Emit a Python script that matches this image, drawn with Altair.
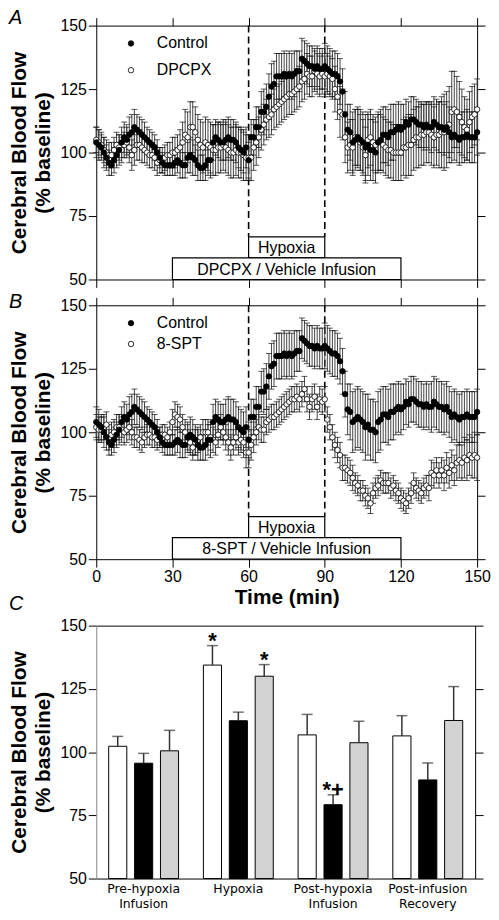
import altair as alt
import pandas as pd

FONT = "Liberation Sans"

# ---------------- data ----------------
time_min = list(range(0, 151))

control = [
    104, 103, 102, 100, 98, 96, 95, 97, 99, 101,
    104, 106, 105, 107, 108, 110, 109, 108, 107, 106,
    105, 104, 103, 102, 100, 98, 96, 95, 95, 95,
    95, 96, 97, 96, 95, 95, 98, 99, 98, 97,
    95, 94, 94, 95, 97, 97, 104, 106, 105, 104,
    104, 105, 106, 105, 105, 104, 102, 101, 100, 102,
    97, 106, 106, 110, 110, 116, 116, 118, 122, 126,
    127, 130, 130, 130, 131, 130, 131, 130, 131, 132,
    132, 137, 136, 135, 134, 134, 133, 134, 133, 133,
    134, 133, 132, 131, 131, 130, 128, 124, 115, 109,
    108, 104, 105, 106, 105, 104, 102, 103, 101, 101,
    100, 104, 105, 107, 107, 106, 108, 108, 109, 110,
    109, 110, 112, 111, 113, 113, 112, 111, 111, 110,
    111, 110, 110, 112, 111, 110, 110, 109, 110, 108,
    106, 107, 106, 105, 106, 106, 107, 106, 106, 106,
    108]
control_sem = [
    6, 6, 5, 6, 5, 5, 4, 5, 5, 6,
    6, 6, 6, 7, 7, 7, 6, 6, 6, 6,
    5, 5, 5, 5, 5, 4, 4, 4, 4, 4,
    4, 5, 5, 6, 5, 5, 6, 7, 7, 6,
    6, 5, 5, 6, 6, 7, 7, 7, 7, 7,
    7, 8, 8, 8, 8, 8, 8, 8, 8, 8,
    7, 7, 7, 8, 8, 8, 9, 9, 9, 9,
    9, 9, 9, 9, 9, 9, 9, 9, 9, 8,
    8, 8, 8, 8, 8, 8, 8, 8, 8, 8,
    9, 9, 9, 9, 9, 9, 9, 9, 9, 10,
    11, 12, 12, 12, 12, 12, 13, 12, 12, 12,
    12, 12, 12, 11, 11, 11, 11, 11, 10, 10,
    10, 9, 9, 9, 9, 9, 9, 9, 9, 9,
    9, 9, 10, 10, 10, 10, 10, 10, 10, 10,
    10, 10, 10, 10, 10, 10, 10, 10, 10, 10,
    9]

dpcpx = [
    105, 104, 103, 101, 100, 99, 99, 101, 103, 102,
    101, 103, 104, 102, 99, 101, 103, 103, 102, 101,
    100, 99, 99, 98, 96, 97, 97, 98, 99, 99,
    100, 100, 101, 102, 104, 107, 106, 110, 110, 108,
    105, 103, 102, 104, 103, 102, 101, 101, 102, 102,
    103, 102, 101, 100, 100, 101, 100, 100, 99, 98,
    98, 98, 102, 104, 106, 109, 111, 113, 114, 115,
    117, 118, 119, 120, 121, 122, 123, 123, 124, 125,
    126, 128, 129, 131, 130, 130, 132, 131, 130, 131,
    130, 131, 130, 129, 125, 122, 116, 115, 106, 102,
    103, 102, 106, 106, 104, 102, 99, 105, 106, 104,
    103, 104, 104, 103, 102, 101, 101, 100, 100, 100,
    100, 102, 102, 103, 103, 105, 106, 106, 107, 107,
    108, 108, 107, 106, 107, 107, 108, 108, 109, 111,
    116, 117, 116, 114, 112, 110, 109, 112, 114, 115,
    117]
dpcpx_sem = [
    5, 5, 5, 5, 5, 5, 5, 5, 5, 5,
    5, 5, 6, 6, 6, 6, 6, 6, 6, 5,
    5, 5, 5, 5, 5, 5, 5, 5, 5, 5,
    6, 6, 6, 7, 8, 10, 10, 10, 10, 10,
    10, 10, 10, 10, 10, 10, 10, 10, 10, 10,
    10, 10, 10, 10, 10, 10, 10, 10, 10, 9,
    9, 9, 9, 9, 8, 8, 8, 8, 8, 8,
    8, 8, 8, 8, 8, 8, 8, 8, 8, 8,
    8, 8, 8, 8, 8, 8, 8, 8, 8, 8,
    8, 8, 8, 8, 9, 9, 10, 10, 10, 10,
    10, 11, 11, 11, 11, 11, 11, 11, 11, 11,
    11, 11, 11, 11, 11, 11, 11, 11, 11, 11,
    11, 11, 12, 12, 12, 12, 12, 12, 12, 12,
    12, 12, 12, 12, 12, 13, 14, 15, 15, 15,
    16, 15, 14, 14, 13, 12, 12, 12, 12, 12,
    12]

spt = [
    102, 101, 101, 102, 103, 98, 99, 100, 102, 102,
    101, 100, 101, 102, 100, 98, 98, 97, 96, 98,
    99, 99, 98, 98, 97, 98, 99, 99, 98, 100,
    104, 107, 106, 105, 102, 100, 98, 96, 94, 96,
    97, 98, 100, 100, 100, 98, 97, 96, 99, 102,
    100, 98, 96, 94, 96, 98, 96, 97, 96, 92,
    92, 95, 98, 100, 102, 101, 101, 104, 105, 106,
    106, 107, 108, 109, 110, 111, 112, 113, 113, 114,
    113, 115, 117, 113, 110, 113, 114, 110, 113, 112,
    113, 105, 102, 98, 95, 93, 91, 86, 86, 85,
    84, 82, 80, 79, 77, 77, 75, 74, 72, 76,
    78, 79, 81, 80, 80, 80, 78, 79, 77, 76,
    74, 73, 72, 74, 76, 80, 78, 77, 76, 78,
    79, 78, 84, 83, 85, 83, 85, 83, 86, 84,
    87, 85, 88, 89, 88, 90, 89, 91, 90, 91,
    90]
spt_sem = [
    5, 5, 5, 5, 5, 5, 5, 5, 5, 5,
    5, 5, 5, 5, 5, 4, 4, 4, 4, 4,
    4, 4, 4, 4, 4, 4, 4, 4, 4, 4,
    5, 5, 5, 5, 5, 5, 5, 5, 5, 5,
    5, 5, 5, 5, 5, 5, 5, 5, 5, 5,
    5, 5, 5, 5, 5, 5, 5, 5, 6, 6,
    6, 6, 6, 5, 5, 5, 5, 5, 5, 5,
    5, 5, 5, 5, 5, 5, 5, 5, 5, 5,
    5, 5, 5, 5, 5, 5, 5, 5, 5, 5,
    5, 5, 5, 5, 5, 5, 5, 5, 5, 5,
    5, 5, 4, 4, 4, 4, 4, 4, 4, 4,
    4, 4, 4, 4, 4, 4, 4, 4, 4, 4,
    4, 4, 4, 4, 4, 4, 4, 4, 4, 4,
    4, 5, 5, 5, 5, 5, 5, 6, 6, 6,
    6, 6, 7, 7, 7, 8, 8, 8, 8, 9,
    9]

x_ticks = [0, 30, 60, 90, 120, 150]
y_ticks = [50, 75, 100, 125, 150]
hypoxia_start, hypoxia_end = 60, 90
infusion_start, infusion_end = 30, 120

bar_groups = ["Pre-hypoxia|Infusion", "Hypoxia", "Post-hypoxia|Infusion", "Post-infusion|Recovery"]
bar_treatments = ["Control", "8-SPT", "DPCPX"]
bar_mean = {
    "Control": [102.3, 134.4, 106.8, 106.4],
    "8-SPT": [95.6, 112.4, 79.2, 89.0],
    "DPCPX": [100.5, 130.0, 103.7, 112.5],
}
bar_sem = {
    "Control": [3.9, 7.7, 8.1, 8.0],
    "8-SPT": [3.9, 3.4, 3.9, 6.7],
    "DPCPX": [8.1, 4.6, 8.5, 13.4],
}
bar_marks = [("Hypoxia", "Control", "*"), ("Hypoxia", "DPCPX", "*"), ("Post-hypoxia|Infusion", "8-SPT", "*+")]

Y_TITLE = ["Cerebral Blood Flow", "(% baseline)"]
INK = "black"

xs = alt.Scale(domain=[0, 150], nice=False, zero=False)
ys = alt.Scale(domain=[50, 150], nice=False, zero=False)


def left_axis(domain_color=INK):
    return alt.Axis(values=y_ticks, tickSize=8, labelFontSize=16, labelPadding=2,
                    title=Y_TITLE, titleFontSize=21, titleFontWeight="bold",
                    titleLineHeight=25, titlePadding=6, grid=False, labelFlush=False,
                    domainColor=domain_color, tickColor=INK, labelColor=INK, titleColor=INK)


def right_axis():
    return alt.Axis(orient="right", values=y_ticks, labels=False, tickSize=8, title=None,
                    grid=False, domainColor=INK, tickColor=INK)


def ts_panel(other_name, other_vals, other_sem, infusion_text, letter, letter_y,
             show_time_labels, legend_row_pad, extra_letter=None, extra_letter_y=0):
    rows = []
    for name, vals, sems in [(other_name, other_vals, other_sem), ("Control", control, control_sem)]:
        for t, v, s in zip(time_min, vals, sems):
            rows.append({"series": name, "t": t, "v": v, "lo": v - s, "hi": v + s})
    df = pd.DataFrame(rows)
    caps = pd.concat([pd.DataFrame({"t": df["t"], "c": df["lo"]}),
                      pd.DataFrame({"t": df["t"], "c": df["hi"]})])

    box_df = pd.DataFrame({
        "label": ["Hypoxia", infusion_text],
        "x1": [hypoxia_start, infusion_start], "x2": [hypoxia_end, infusion_end],
        "y1": [58.5, 50.0], "y2": [66.8, 58.5],
    })
    box_df["xm"] = (box_df["x1"] + box_df["x2"]) / 2
    box_df["ym"] = (box_df["y1"] + box_df["y2"]) / 2
    dash_df = pd.DataFrame({"t": [hypoxia_start, hypoxia_end], "top": [150, 150], "bot": [66.8, 66.8]})

    if show_time_labels:
        xb = alt.Axis(values=x_ticks, tickSize=8, labelFontSize=16, labelPadding=2, labelFlush=False,
                      title="Time (min)", titleFontSize=21, titleFontWeight="bold", titlePadding=2,
                      grid=False, domainColor=INK, tickColor=INK, labelColor=INK, titleColor=INK)
    else:
        xb = alt.Axis(values=x_ticks, tickSize=8, labels=False, title=None, grid=False,
                      domainColor=INK, tickColor=INK)
    xt = alt.Axis(orient="top", values=x_ticks, tickSize=8, labels=False, title=None, grid=False,
                  domainColor=INK, tickColor=INK)

    dash = alt.Chart(dash_df).mark_rule(strokeDash=[7, 4], strokeWidth=1.6, color=INK).encode(
        x=alt.X("t:Q", scale=xs, axis=None), y=alt.Y("top:Q", scale=ys, axis=None), y2="bot:Q")
    boxes = alt.Chart(box_df).mark_rect(fill="white", stroke=INK, strokeWidth=1.2).encode(
        x=alt.X("x1:Q", scale=xs, axis=None), x2="x2:Q",
        y=alt.Y("y1:Q", scale=ys, axis=None), y2="y2:Q")
    box_text = alt.Chart(box_df).mark_text(font=FONT, fontSize=16, baseline="middle", dy=1, color=INK).encode(
        x=alt.X("xm:Q", scale=xs, axis=None), y=alt.Y("ym:Q", scale=ys, axis=None), text="label:N")
    err = alt.Chart(df).mark_rule(color="#444", strokeWidth=1).encode(
        x=alt.X("t:Q", scale=xs, axis=xb), y=alt.Y("lo:Q", scale=ys, axis=left_axis()), y2="hi:Q")
    cap = alt.Chart(caps).mark_tick(orient="horizontal", size=6, thickness=1, color="#111").encode(
        x=alt.X("t:Q", scale=xs, axis=None), y=alt.Y("c:Q", scale=ys, axis=None))
    pts = alt.Chart(df).mark_circle(size=30, stroke=INK, strokeWidth=0.8, opacity=1).encode(
        x=alt.X("t:Q", scale=xs, axis=xt),
        y=alt.Y("v:Q", scale=ys, axis=right_axis()),
        fill=alt.Fill("series:N", scale=alt.Scale(domain=["Control", other_name], range=["black", "white"]),
                      legend=alt.Legend(orient="none", legendX=27, legendY=10, title=None,
                                        labelFontSize=16, labelFont=FONT, labelColor=INK,
                                        symbolType="circle", symbolSize=30, symbolStrokeColor=INK,
                                        symbolStrokeWidth=0.8, labelOffset=18, rowPadding=legend_row_pad,
                                        padding=0)))
    layers = [dash, boxes, box_text, err, cap, pts]
    layers.append(alt.Chart(pd.DataFrame({"label": [letter]})).mark_text(
        font=FONT, fontSize=20, fontStyle="italic", align="left", baseline="alphabetic", color=INK).encode(
        x=alt.value(-88), y=alt.value(letter_y), text="label:N"))
    if extra_letter:
        layers.append(alt.Chart(pd.DataFrame({"label": [extra_letter]})).mark_text(
            font=FONT, fontSize=20, fontStyle="italic", align="left", baseline="alphabetic", color=INK).encode(
            x=alt.value(-88), y=alt.value(extra_letter_y), text="label:N"))
    return alt.layer(*layers).resolve_axis(x="independent", y="independent").properties(width=384, height=256)


panel_a = ts_panel("DPCPX", dpcpx, dpcpx_sem, "DPCPX / Vehicle Infusion", "A", -2, False, 11)
panel_b = ts_panel("8-SPT", spt, spt_sem, "8-SPT / Vehicle Infusion", "B", 3, True, 5,
                   extra_letter="C", extra_letter_y=307)

# ---------------- bar panel ----------------
brows = []
for tr in bar_treatments:
    for g, m, s in zip(bar_groups, bar_mean[tr], bar_sem[tr]):
        brows.append({"group": g, "treatment": tr, "mean": m, "hi": m + s})
bdf = pd.DataFrame(brows)
mdf = pd.DataFrame([{"group": g, "treatment": tr, "txt": txt} for g, tr, txt in bar_marks])
mdf = mdf.merge(bdf, on=["group", "treatment"])

bx_scale = alt.Scale(paddingInner=0.18, paddingOuter=0.09)
bo_scale = alt.Scale(paddingInner=0.3, paddingOuter=0.15)
xo = alt.XOffset("treatment:N", sort=bar_treatments, scale=bo_scale)

bx_axis = alt.Axis(labelExpr="split(datum.label, '|')", ticks=False, labelAngle=0,
                   labelFont="DejaVu Sans", labelFontSize=12.5, labelLineHeight=15,
                   labelPadding=4, title=None, domainColor=INK, labelColor=INK, grid=False)
bx_top = alt.Axis(orient="top", ticks=False, labels=False, title=None, domainColor=INK, grid=False)

bars = alt.Chart(bdf).mark_bar(stroke=INK, strokeWidth=1).encode(
    x=alt.X("group:N", sort=bar_groups, scale=bx_scale, axis=bx_axis),
    xOffset=xo,
    y=alt.Y("mean:Q", scale=ys, axis=left_axis("#888")),
    y2=alt.datum(50),
    fill=alt.Fill("treatment:N", scale=alt.Scale(domain=bar_treatments, range=["white", "black", "#d2d2d2"]),
                  legend=None))
berr = alt.Chart(bdf).mark_rule(color="#333", strokeWidth=1.5).encode(
    x=alt.X("group:N", sort=bar_groups, scale=bx_scale, axis=bx_top),
    xOffset=xo,
    y=alt.Y("mean:Q", scale=ys, axis=right_axis()), y2="hi:Q")
bcap = alt.Chart(bdf).mark_tick(orient="horizontal", size=11, thickness=1.5, color="#333").encode(
    x=alt.X("group:N", sort=bar_groups, scale=bx_scale, axis=None),
    xOffset=xo,
    y=alt.Y("hi:Q", scale=ys, axis=None))
bstar = alt.Chart(mdf).mark_text(font=FONT, fontSize=22, fontWeight="bold", baseline="alphabetic",
                                 dy=2, color=INK).encode(
    x=alt.X("group:N", sort=bar_groups, scale=bx_scale, axis=None),
    xOffset=xo,
    y=alt.Y("hi:Q", scale=ys, axis=None), text="txt:N")

panel_c = alt.layer(bars, berr, bcap, bstar).resolve_axis(x="independent", y="independent").properties(
    width=382, height=255)

chart = alt.vconcat(panel_a, panel_b, panel_c, spacing=4).resolve_scale(
    x="independent", y="independent", fill="independent").resolve_legend(fill="independent").properties(
    padding={"left": 0, "top": -4, "right": 0, "bottom": 0}).configure(font=FONT).configure_view(stroke=None)

chart.save("out.html", embed_options={"renderer": "svg", "actions": False})
